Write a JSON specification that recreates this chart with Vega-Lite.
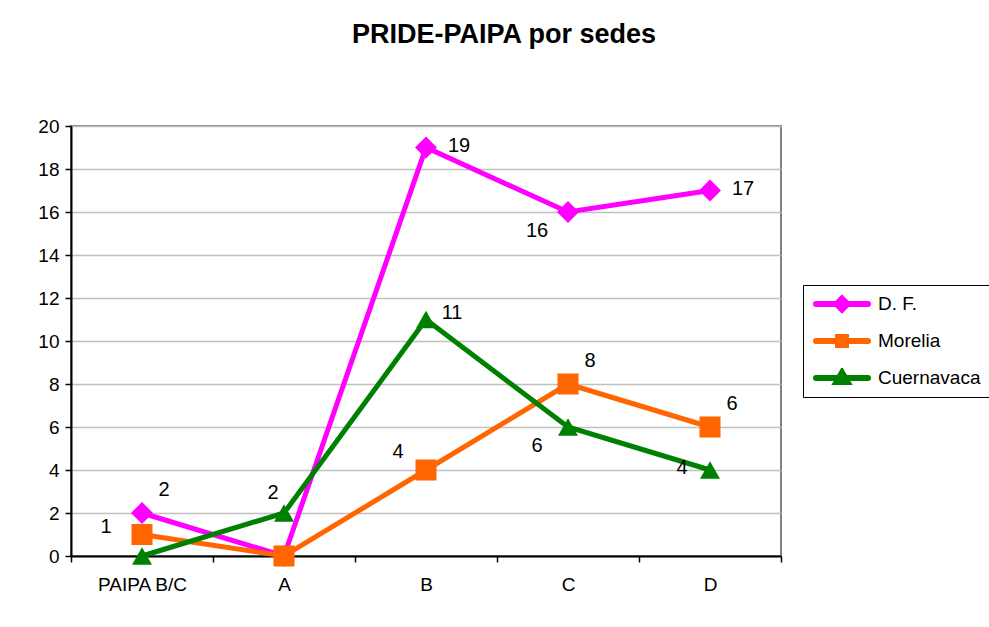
{
  "$schema": "https://vega.github.io/schema/vega-lite/v6.json",
  "autosize": "none",
  "width": 710,
  "height": 430,
  "padding": {"left": 71, "top": 126, "right": 208, "bottom": 71},
  "background": "white",
  "config": {
    "font": "Liberation Sans",
    "view": {"stroke": "#808080", "strokeWidth": 2}
  },
  "title": {
    "text": "PRIDE-PAIPA por sedes",
    "font": "Liberation Sans",
    "fontSize": 27,
    "fontWeight": "bold",
    "color": "black",
    "anchor": "middle",
    "dx": 78,
    "offset": 68
  },
  "data": {
    "values": [
      {"series": "D. F.", "cat": "PAIPA B/C", "value": 2},
      {"series": "D. F.", "cat": "A", "value": 0},
      {"series": "D. F.", "cat": "B", "value": 19},
      {"series": "D. F.", "cat": "C", "value": 16},
      {"series": "D. F.", "cat": "D", "value": 17},
      {"series": "Morelia", "cat": "PAIPA B/C", "value": 1},
      {"series": "Morelia", "cat": "A", "value": 0},
      {"series": "Morelia", "cat": "B", "value": 4},
      {"series": "Morelia", "cat": "C", "value": 8},
      {"series": "Morelia", "cat": "D", "value": 6},
      {"series": "Cuernavaca", "cat": "PAIPA B/C", "value": 0},
      {"series": "Cuernavaca", "cat": "A", "value": 2},
      {"series": "Cuernavaca", "cat": "B", "value": 11},
      {"series": "Cuernavaca", "cat": "C", "value": 6},
      {"series": "Cuernavaca", "cat": "D", "value": 4}
    ]
  },
  "encoding": {
    "x": {
      "field": "cat",
      "type": "nominal",
      "sort": ["PAIPA B/C", "A", "B", "C", "D"],
      "scale": {"type": "band", "paddingInner": 0, "paddingOuter": 0},
      "axis": {
        "title": null,
        "labelAngle": 0,
        "tickBand": "extent",
        "domainColor": "black",
        "domainWidth": 2,
        "tickColor": "black",
        "tickWidth": 1.5,
        "tickSize": 6,
        "labelPadding": 13,
        "labelFontSize": 19,
        "labelColor": "black",
        "labelFont": "Liberation Sans",
        "grid": false
      }
    },
    "y": {
      "field": "value",
      "type": "quantitative",
      "scale": {"domain": [0, 20], "nice": false},
      "axis": {
        "title": null,
        "values": [0, 2, 4, 6, 8, 10, 12, 14, 16, 18, 20],
        "grid": true,
        "gridColor": "#c0c0c0",
        "gridWidth": 1.5,
        "domainColor": "black",
        "domainWidth": 2,
        "tickColor": "black",
        "tickWidth": 1.5,
        "tickSize": 6,
        "labelPadding": 6,
        "labelFontSize": 19,
        "labelColor": "black",
        "labelFont": "Liberation Sans"
      }
    }
  },
  "resolve": {"legend": {"color": "independent"}},
  "layer": [
    {
      "mark": {"type": "line", "strokeWidth": 5},
      "encoding": {
        "color": {
          "field": "series",
          "type": "nominal",
          "sort": ["D. F.", "Morelia", "Cuernavaca"],
          "scale": {"domain": ["D. F.", "Morelia", "Cuernavaca"], "range": ["#FF00FF", "#FF6600", "#008000"]},
          "legend": {
            "title": null,
            "orient": "none",
            "legendX": 732,
            "legendY": 159,
            "strokeColor": "black",
            "fillColor": "white",
            "padding": 9,
            "rowPadding": 17,
            "clipHeight": 20,
            "labelFontSize": 19,
            "labelFont": "Liberation Sans",
            "labelColor": "black",
            "labelOffset": 40,
            "symbolSize": 400,
            "symbolStrokeWidth": 6,
            "symbolType": "M-1,0H4.8",
            "encode": {
              "symbols": {
                "update": {
                  "shape": {"signal": "datum.value === 'D. F.' ? 'M-0.9,0H4.3M1.7,-0.55L2.25,0L1.7,0.55L1.15,0Z' : datum.value === 'Morelia' ? 'M-0.9,0H4.3M1.3,-0.4H2.1V0.4H1.3Z' : 'M-0.9,0H4.3M1.7,-0.55L2.25,0.4L1.15,0.4Z'"},
                  "fill": {"signal": "scale('color', datum.value)"},
                  "stroke": {"signal": "scale('color', datum.value)"},
                  "strokeWidth": {"value": 6},
                  "strokeCap": {"value": "round"},
                  "opacity": {"value": 1}
                }
              }
            }
          }
        }
      }
    },
    {
      "mark": {"type": "point", "filled": true, "opacity": 1},
      "encoding": {
        "color": {"field": "series", "type": "nominal", "legend": null},
        "shape": {
          "field": "series",
          "type": "nominal",
          "scale": {"domain": ["D. F.", "Morelia", "Cuernavaca"], "range": ["diamond", "square", "triangle-up"]},
          "legend": null
        },
        "size": {
          "field": "series",
          "type": "nominal",
          "scale": {"domain": ["D. F.", "Morelia", "Cuernavaca"], "range": [484, 400, 520]},
          "legend": null
        }
      }
    },
    {
      "transform": [{"filter": "(datum.series === 'D. F.' && datum.cat === 'PAIPA B/C') || (datum.series === 'Morelia' && (datum.cat === 'C' || datum.cat === 'D'))"}],
      "mark": {"type": "text", "dx": 22, "dy": -23, "fontSize": 20, "font": "Liberation Sans", "color": "black"},
      "encoding": {"text": {"field": "value", "type": "quantitative"}}
    },
    {
      "transform": [{"filter": "datum.series === 'D. F.' && (datum.cat === 'B' || datum.cat === 'D')"}],
      "mark": {"type": "text", "dx": 33, "dy": -2, "fontSize": 20, "font": "Liberation Sans", "color": "black"},
      "encoding": {"text": {"field": "value", "type": "quantitative"}}
    },
    {
      "transform": [{"filter": "datum.series === 'Cuernavaca' && datum.cat === 'B'"}],
      "mark": {"type": "text", "dx": 26, "dy": -7, "fontSize": 20, "font": "Liberation Sans", "color": "black"},
      "encoding": {"text": {"field": "value", "type": "quantitative"}}
    },
    {
      "transform": [{"filter": "(datum.series === 'D. F.' && datum.cat === 'C') || (datum.series === 'Cuernavaca' && datum.cat === 'C')"}],
      "mark": {"type": "text", "dx": -31, "dy": 19, "fontSize": 20, "font": "Liberation Sans", "color": "black"},
      "encoding": {"text": {"field": "value", "type": "quantitative"}}
    },
    {
      "transform": [{"filter": "datum.series === 'Morelia' && datum.cat === 'PAIPA B/C'"}],
      "mark": {"type": "text", "dx": -36, "dy": -8, "fontSize": 20, "font": "Liberation Sans", "color": "black"},
      "encoding": {"text": {"field": "value", "type": "quantitative"}}
    },
    {
      "transform": [{"filter": "datum.series === 'Morelia' && datum.cat === 'B'"}],
      "mark": {"type": "text", "dx": -28, "dy": -18, "fontSize": 20, "font": "Liberation Sans", "color": "black"},
      "encoding": {"text": {"field": "value", "type": "quantitative"}}
    },
    {
      "transform": [{"filter": "datum.series === 'Cuernavaca' && datum.cat === 'D'"}],
      "mark": {"type": "text", "dx": -28, "dy": -2, "fontSize": 20, "font": "Liberation Sans", "color": "black"},
      "encoding": {"text": {"field": "value", "type": "quantitative"}}
    },
    {
      "transform": [{"filter": "datum.series === 'Cuernavaca' && datum.cat === 'A'"}],
      "mark": {"type": "text", "dx": -11, "dy": -20, "fontSize": 20, "font": "Liberation Sans", "color": "black"},
      "encoding": {"text": {"field": "value", "type": "quantitative"}}
    }
  ]
}
